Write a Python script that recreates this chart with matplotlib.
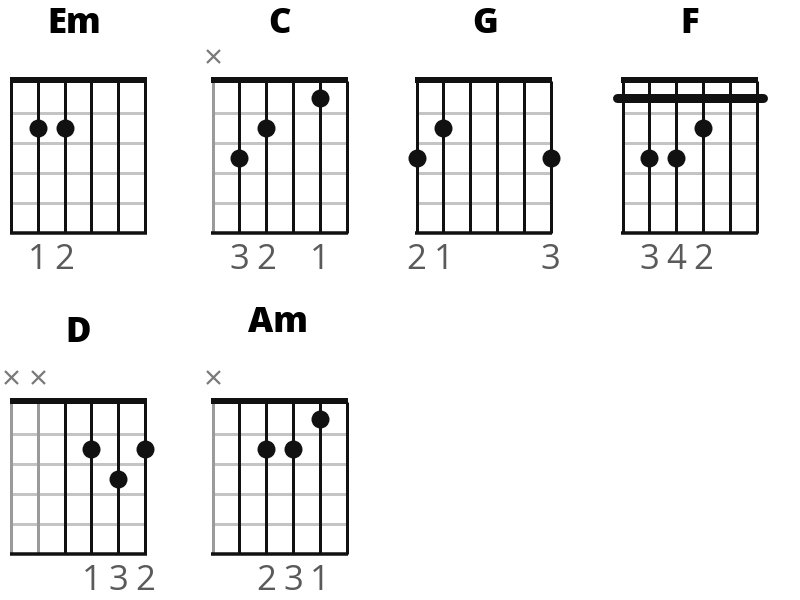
import matplotlib
matplotlib.use("Agg")
import matplotlib.pyplot as plt

# ---- data ----
chord_names = ["Em", "C", "G", "F", "D", "Am"]
# fret per string (low E -> high e); -1 = muted, 0 = open
chord_frets = [
    [0, 2, 2, 0, 0, 0],
    [-1, 3, 2, 0, 1, 0],
    [3, 2, 0, 0, 0, 3],
    [1, 3, 3, 2, 1, 1],
    [-1, -1, 0, 2, 3, 2],
    [-1, 0, 2, 2, 1, 0],
]
chord_fingers = [
    ["", "1", "2", "", "", ""],
    ["", "3", "2", "", "1", ""],
    ["2", "1", "", "", "", "3"],
    ["", "3", "4", "2", "", ""],
    ["", "", "", "1", "3", "2"],
    ["", "", "2", "3", "1", ""],
]
chord_barre = [None, None, None, 1, None, None]

# ---- layout (pixels) ----
grid_left = [11, 212.5, 416.5, 622.5, 11, 212.5]
grid_top = [83, 83, 83, 83, 404, 404]
title_y = [24, 24, 24, 24, 333, 323]
title_dx = [-4, 0, 2, 0, 0, -1]
string_gap = 26.8
fret_gap = 30
n_frets = 5

fig = plt.figure(figsize=(8, 6), dpi=100)
ax = fig.add_axes([0, 0, 1, 1])
ax.set_xlim(0, 800)
ax.set_ylim(600, 0)
ax.axis("off")

PX = 0.72  # points per pixel

for i, name in enumerate(chord_names):
    x0 = grid_left[i]
    y0 = grid_top[i]
    xs = [x0 + s * string_gap for s in range(6)]
    x1 = xs[-1]
    y1 = y0 + n_frets * fret_gap
    frets = chord_frets[i]

    # fret lines (light grey)
    for f in range(1, n_frets):
        y = y0 + f * fret_gap
        ax.plot([x0, x1], [y, y], color="#c4c4c4", lw=3 * PX, zorder=1,
                solid_capstyle="butt")
    # strings
    for s, x in enumerate(xs):
        col = "#9a9a9a" if frets[s] < 0 else "#111111"
        ax.plot([x, x], [y0 - 2, y1], color=col, lw=3 * PX, zorder=2,
                solid_capstyle="butt")
    # nut
    ax.plot([x0 - 1.5, x1 + 1.5], [y0 - 3, y0 - 3], color="#111111",
            lw=6 * PX, zorder=3, solid_capstyle="butt")
    # bottom line
    ax.plot([x0 - 1.5, x1 + 1.5], [y1, y1], color="#111111",
            lw=3.5 * PX, zorder=3, solid_capstyle="butt")

    # barre
    b = chord_barre[i]
    if b is not None:
        yb = y0 + (b - 0.5) * fret_gap
        ax.plot([x0 - 6, x1 + 6], [yb, yb], color="#111111", lw=9 * PX,
                zorder=4, solid_capstyle="round")

    # dots
    dx, dy = [], []
    for s, f in enumerate(frets):
        if f > 0 and f != b:
            dx.append(xs[s])
            dy.append(y0 + (f - 0.5) * fret_gap)
    ax.scatter(dx, dy, s=(18 * PX) ** 2, color="#111111", zorder=5,
               linewidths=0)

    # muted markers
    mx = [xs[s] for s, f in enumerate(frets) if f < 0]
    if mx:
        ax.scatter(mx, [y0 - 27] * len(mx), marker="x", s=(13 * PX) ** 2,
                   color="#7a7a7a", linewidths=1.6 * PX * 1.4, zorder=5)

    # finger numbers
    for s, lab in enumerate(chord_fingers[i]):
        if lab:
            ax.text(xs[s], y1 + 27, lab, ha="center", va="center",
                    fontsize=25, color="#5a5a5a", family="Open Sans",
                    fontweight="normal")

    # title
    ax.text((x0 + x1) / 2 + title_dx[i], title_y[i], name, ha="center",
            va="center", fontsize=25, fontweight="heavy",
            family="Open Sans", color="black")

fig.savefig("out.png", dpi=100)
